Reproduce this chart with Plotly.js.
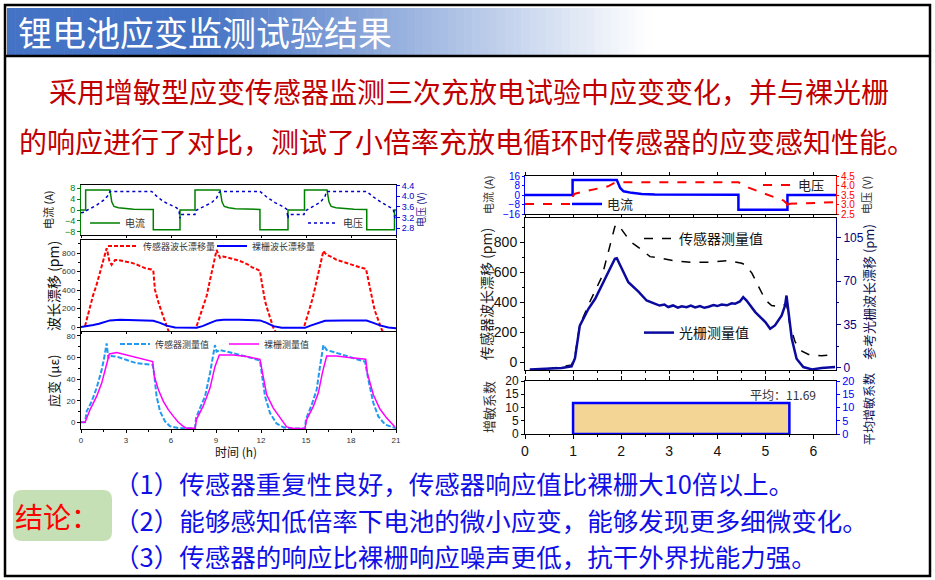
<!DOCTYPE html>
<html><head><meta charset="utf-8">
<script src="https://cdn.plot.ly/plotly-3.0.1.min.js"></script>
<style>html,body{margin:0;padding:0;background:#fff;}#chart{width:935px;height:580px;}</style>
</head><body><div id="chart"></div>
<script>
// ---------------- DATA ----------------
// Left panel (three charge/discharge cycles, time in h)
const ltCurrentTime = [0,0.31,0.31,1.93,2.05,2.2,2.5,2.9,3.5,4.82,4.82,6.6,6.6,7.6,7.6,9.27,9.4,9.55,9.85,10.3,11.0,11.93,11.93,13.8,13.8,14.9,14.9,16.4,16.53,16.68,17.0,17.5,18.2,19.05,19.05,20.9,20.9,21];
const ltCurrent = [0,0,7.4,7.4,3.0,1.3,0.8,0.5,0.3,0.2,-7.3,-7.3,0,0,7.4,7.4,3.0,1.3,0.8,0.5,0.3,0.2,-7.3,-7.3,0,0,7.4,7.4,3.0,1.3,0.8,0.5,0.3,0.2,-7.3,-7.3,0,0];
const ltVoltageTime = [0,0.3,0.33,0.6,1.04,1.49,1.82,1.93,2.0,4.71,5.04,5.49,5.93,6.38,6.53,6.6,6.62,7.6,7.62,8.16,8.71,9.04,9.22,9.31,11.93,12.38,12.93,13.49,13.71,13.8,13.82,14.87,14.9,15.42,15.98,16.27,16.38,19.04,19.49,20.04,20.6,20.82,20.93,20.95,21];
const ltVoltage = [3.38,3.4,3.45,3.53,3.66,3.84,4.03,4.18,4.18,4.18,4.0,3.8,3.68,3.56,3.47,3.16,3.31,3.31,3.45,3.6,3.76,3.93,4.15,4.18,4.18,3.97,3.76,3.6,3.51,3.16,3.31,3.31,3.43,3.6,3.78,4.0,4.18,4.18,3.97,3.76,3.6,3.51,3.16,3.3,3.3];

const lmSensorTime = [0.27,0.45,0.6,0.8,1.04,1.2,1.38,1.5,1.6,1.71,1.8,1.89,2.04,2.27,2.5,3.04,3.4,3.71,4.0,4.27,4.71,4.82,4.93,5.05,5.16,5.38,5.6,5.76,5.85,null,
  7.71,7.88,8.04,8.2,8.38,8.55,8.71,8.93,9.04,9.15,9.27,9.49,9.8,10.16,10.5,10.82,11.1,11.38,11.7,11.93,12.04,12.15,12.27,12.45,12.6,12.82,13.0,null,
  14.89,15.08,15.27,15.45,15.6,15.8,15.93,16.16,16.27,16.38,16.7,17.04,17.4,17.71,18.05,18.38,18.7,19.0,19.16,19.27,19.38,19.5,19.6,19.82,20.04,20.15];
const lmSensorDrift = [11,120,226,340,459,550,638,720,782,853,790,717,674,725,725,710,695,677,660,638,624,612,405,330,269,162,54,-17,-50,null,
  11,90,172,250,339,470,602,746,835,790,750,765,752,738,722,700,680,650,628,610,495,390,280,180,100,-6,-60,null,
  11,110,208,315,423,560,674,825,800,782,760,728,710,692,672,656,642,631,495,400,316,240,172,65,-24,-60];
const lmBareTime = [0,0.5,0.82,1.2,1.49,1.93,2.6,3.27,4.16,4.82,5.27,5.71,6.27,7.0,7.71,8.1,8.38,8.7,9.04,9.49,10.5,11.93,12.38,12.82,13.38,14.2,14.93,15.3,15.71,16.27,17.5,19.04,19.49,19.93,20.49,21];
const lmBareDrift = [0,10,22,35,47,72,78,75,70,68,45,15,-5,-7,-7,10,25,50,72,80,78,72,45,10,-8,-9,-9,15,40,68,70,70,45,18,-5,-12];

const lbSensorTime = [0,0.27,0.38,0.71,1.04,1.38,1.56,1.71,1.82,1.93,2.38,3.04,3.71,4.38,4.78,4.87,5.04,5.27,5.6,5.93,6.38,6.6,7.6,
  7.67,7.93,8.27,8.6,8.82,8.93,9.04,9.27,9.71,10.16,11.04,11.93,12.04,12.27,12.6,13.04,13.49,13.93,14.93,
  15.0,15.38,15.71,15.93,16.16,16.38,17.04,17.71,18.38,18.93,19.16,19.49,19.82,20.27,20.93,21];
const lbSensorStrain = [0,0,10.1,19.4,31.7,48.6,60.9,73.2,59.3,61.5,60.9,57.8,54.7,53.8,53.2,45.5,24.0,10.1,0.9,-3.7,-4.6,-5.5,-5.5,
  3.9,13.2,24.0,45.5,64.0,71.6,65.5,67.0,65.5,64.0,60.9,57.2,45.5,24.0,8.6,-1.2,-4.6,-5.8,-5.8,
  3.0,16.3,30.1,51.6,71.6,67.0,64.6,61.5,58.4,56.3,39.4,17.9,5.5,-2.1,-5.2,-5.5];
const lbBareTime = [0,0.27,0.6,1.04,1.38,1.71,1.89,2.38,3.04,3.93,4.78,4.89,5.16,5.49,5.82,6.16,6.49,6.82,7.04,7.6,
  7.71,8.16,8.6,8.93,9.22,10.16,11.04,11.93,12.04,12.38,12.82,13.27,13.71,14.16,14.93,
  15.04,15.49,15.82,16.11,16.38,17.04,17.71,18.38,18.98,19.09,19.49,19.93,20.38,20.93];
const lbBareStrain = [0,0,11.7,24.0,36.3,54.7,63.3,64.6,62.4,59.3,56.3,42.4,30.1,19.4,11.7,5.5,0,-3.7,-5.5,-5.5,
  3.0,15.4,31.7,51.6,62.4,62.4,60.9,58.4,50.1,25.5,13.2,3.9,-4.3,-5.8,-5.8,
  2.4,14.8,27.1,47.0,61.5,61.5,60.2,59.0,58.4,45.5,25.5,12.3,3.9,-4.3];

// Right panel (single cycle, time in h)
const rtCurrentTime = [0,0.99,0.99,1.91,1.98,2.05,2.22,2.43,2.7,3.5,4.44,4.44,5.46,5.46,6.47];
const rtCurrent = [0,0,12.7,12.7,5.9,3.1,1.8,0.8,0.4,0.2,0.2,-12.4,-12.4,0,0];
const rtVoltageTime = [0,0.97,1.0,1.04,1.25,1.53,1.73,1.84,1.91,4.44,4.65,4.93,5.2,5.38,5.45,5.47,5.5,5.9,6.47];
const rtVoltage = [3.02,3.02,3.45,3.57,3.69,3.84,3.96,4.11,4.17,4.17,3.89,3.62,3.39,3.21,3.04,2.71,3.04,3.07,3.12];

const rmSensorTime = [0.1,0.55,0.97,1.04,1.14,1.35,1.6,1.73,1.87,1.93,2.01,2.19,2.43,2.6,2.84,3.12,3.47,3.82,4.23,4.51,4.58,4.72,4.86,5.0,5.13,5.34,5.44,5.51,5.62,5.76,5.9,6.17,6.45];
const rmSensorDrift = [-53,-42,-20,43,248,403,570,738,905,921,883,805,749,704,693,675,666,666,677,660,649,594,504,415,377,370,393,248,135,73,51,42,51];
const rmBareTime = [0.1,0.49,0.76,0.97,1.04,1.14,1.32,1.46,1.6,1.73,1.87,1.91,2.01,2.15,2.36,2.53,2.71,2.8,2.9,2.98,3.08,3.18,3.26,3.36,3.45,3.54,3.64,3.73,3.82,3.92,4.0,4.09,4.2,4.3,4.37,4.47,4.54,4.61,4.79,5.0,5.1,5.2,5.34,5.41,5.44,5.48,5.55,5.65,5.79,5.97,6.17,6.45];
const rmBareDrift = [-1.5,-0.8,-0.2,1.1,7.6,34,47.6,55.7,66.4,77.2,88,88.5,79.9,69.1,61.5,54.3,51.6,50.2,51.0,49.0,50.3,48.5,49.6,48.9,50.1,48.7,49.8,48.4,49.2,50.6,49.8,51.0,50.4,52.0,51.6,53.5,57,54.3,44.9,36.8,31.4,34.1,42.2,50.2,58.3,44.9,23.4,7.2,0.5,-1.4,-0.3,0.5];

const gainStart = 1;
const gainEnd = 5.5;
const gainAverage = 11.69;

// tick labels
const ltCurrentTicks = [-8,-4,0,4,8];
const ltVoltageTicks = [2.8,3.2,3.6,4.0,4.4];
const lmTicks = [0,200,400,600,800];
const lbTicks = [0,20,40,60,80];
const timeTicksLeft = [0,3,6,9,12,15,18,21];
const rtCurrentTicks = [-16,-8,0,8,16];
const rtVoltageTicks = [2.5,3.0,3.5,4.0,4.5];
const rmLeftTicks = [0,200,400,600,800];
const rmRightTicks = [0,35,70,105];
const rbTicks = [0,5,10,15,20];
const timeTicksRight = [0,1,2,3,4,5,6];

// ---------------- LAYOUT HELPERS ----------------
const W = 935, H = 580;
const px = v => v / W;
const py = v => 1 - v / H;
const TF = 'Liberation Sans, Arial, sans-serif';
const CF = 'Noto Sans CJK SC, sans-serif';

function ax(extra) {
  return Object.assign({
    showline: true, linecolor: '#000', linewidth: 1, ticks: 'outside', ticklen: 3, tickwidth: 1,
    tickcolor: '#000', showgrid: false, zeroline: false, fixedrange: true,
    tickfont: {family: TF, size: 9, color: '#222'}
  }, extra);
}
function leg(x, y, size, color) {
  return {x: px(x), y: py(y), xanchor: 'left', yanchor: 'middle', orientation: 'h',
    bgcolor: 'rgba(0,0,0,0)', borderwidth: 0, font: {family: CF, size: size, color: color},
    itemwidth: 30, tracegroupgap: 0};
}

const traces = [
  {x: ltCurrentTime, y: ltCurrent, xaxis: 'x', yaxis: 'y', mode: 'lines', name: '电流',
   line: {color: '#008000', width: 1.5}, legend: 'legend'},
  {x: ltVoltageTime, y: ltVoltage, xaxis: 'x', yaxis: 'y2', mode: 'lines', name: '电压',
   line: {color: '#0000CC', width: 1.5, dash: 'dot'}, legend: 'legend2'},
  {x: lmSensorTime, y: lmSensorDrift, xaxis: 'x2', yaxis: 'y3', mode: 'lines', name: '传感器波长漂移量',
   line: {color: '#FF0000', width: 2, dash: '4px,2px'}, legend: 'legend3', connectgaps: false},
  {x: lmBareTime, y: lmBareDrift, xaxis: 'x2', yaxis: 'y3', mode: 'lines', name: '裸栅波长漂移量',
   line: {color: '#0000FF', width: 2}, legend: 'legend4'},
  {x: lbSensorTime, y: lbSensorStrain, xaxis: 'x3', yaxis: 'y4', mode: 'lines', name: '传感器测量值',
   line: {color: '#1E9BF0', width: 2, dash: '5px,2px'}, legend: 'legend5'},
  {x: lbBareTime, y: lbBareStrain, xaxis: 'x3', yaxis: 'y4', mode: 'lines', name: '裸栅测量值',
   line: {color: '#FF00FF', width: 1.5}, legend: 'legend6'},
  {x: rtCurrentTime, y: rtCurrent, xaxis: 'x4', yaxis: 'y5', mode: 'lines', name: '电流',
   line: {color: '#0000FF', width: 2.5}, legend: 'legend7'},
  {x: rtVoltageTime, y: rtVoltage, xaxis: 'x4', yaxis: 'y6', mode: 'lines', name: '电压',
   line: {color: '#FF0000', width: 2, dash: 'dash'}, legend: 'legend8'},
  {x: rmSensorTime, y: rmSensorDrift, xaxis: 'x5', yaxis: 'y7', mode: 'lines', name: '传感器测量值',
   line: {color: '#000000', width: 1.5, dash: 'dash'}, legend: 'legend9'},
  {x: rmBareTime, y: rmBareDrift, xaxis: 'x5', yaxis: 'y8', mode: 'lines', name: '光栅测量值',
   line: {color: '#0A0A9E', width: 2.5}, legend: 'legend10'},
  {type: 'bar', x: [(gainStart + gainEnd) / 2], width: [gainEnd - gainStart], y: [gainAverage],
   xaxis: 'x6', yaxis: 'y9', showlegend: false,
   marker: {color: '#F3D595', line: {color: '#0000FF', width: 2.5}}},
  {x: [null], y: [null], xaxis: 'x6', yaxis: 'y10', mode: 'lines', showlegend: false}
];

// Title band gradient
const shapes = [];
const gx0 = 7, gx1 = 660, nSlices = 80;
for (let i = 0; i < nSlices; i++) {
  const a = gx0 + (gx1 - gx0) * i / nSlices, b = gx0 + (gx1 - gx0) * (i + 1) / nSlices + 0.6;
  const m = (a + b) / 2;
  let t = Math.min(1, Math.max(0, (m - 200) / (650 - 200)));
  const c0 = [68, 114, 196];
  const col = c0.map(c => Math.round(c + (255 - c) * t));
  shapes.push({type: 'rect', xref: 'paper', yref: 'paper', x0: px(a), x1: px(b), y0: py(55), y1: py(8),
    line: {width: 0}, fillcolor: 'rgb(' + col.join(',') + ')', layer: 'below'});
}
shapes.push({type: 'rect', xref: 'paper', yref: 'paper', x0: px(5), x1: px(930), y0: py(576), y1: py(5),
  line: {color: '#000', width: 2.5}, fillcolor: 'rgba(0,0,0,0)'});
shapes.push({type: 'line', xref: 'paper', yref: 'paper', x0: px(5), x1: px(930), y0: py(56), y1: py(56),
  line: {color: '#000', width: 2.5}});
// rounded green box
(function () {
  const x0 = px(13), x1 = px(112), y0 = py(541), y1 = py(490), rx = px(9), ry = 9 / H;
  const p = `M${x0 + rx},${y1} L${x1 - rx},${y1} Q${x1},${y1} ${x1},${y1 - ry} L${x1},${y0 + ry} Q${x1},${y0} ${x1 - rx},${y0} L${x0 + rx},${y0} Q${x0},${y0} ${x0},${y0 + ry} L${x0},${y1 - ry} Q${x0},${y1} ${x0 + rx},${y1} Z`;
  shapes.push({type: 'path', xref: 'paper', yref: 'paper', path: p, fillcolor: '#C5E0B4', line: {width: 0}, layer: 'below'});
})();

function ann(text, x, y, o) {
  return Object.assign({text: text, x: px(x), y: py(y), xref: 'paper', yref: 'paper', showarrow: false,
    xanchor: 'center', yanchor: 'middle'}, o);
}
function vt(text, x, y, size, color) {
  return ann(text, x, y, {textangle: -90, font: {family: CF, size: size, color: color}});
}

const concl = {family: CF, size: 25.5, color: '#1010E6'};
const annotations = [
  ann('锂电池应变监测试验结果', 16, 31, {xanchor: 'left', font: {family: CF, size: 34, color: '#FFFFFF'}}),
  ann('采用增敏型应变传感器监测三次充放电试验中应变变化，并与裸光栅', 47, 91, {xanchor: 'left', font: {family: CF, size: 28, color: '#C00000'}}),
  ann('的响应进行了对比，测试了小倍率充放电循环时传感器的应变感知性能。', 17, 141, {xanchor: 'left', font: {family: CF, size: 28, color: '#C00000'}}),
  ann('（1）传感器重复性良好，传感器响应值比裸栅大10倍以上。', 112, 482, {xanchor: 'left', font: concl}),
  ann('（2）能够感知低倍率下电池的微小应变，能够发现更多细微变化。', 112, 519, {xanchor: 'left', font: concl}),
  ann('（3）传感器的响应比裸栅响应噪声更低，抗干外界扰能力强。', 112, 555, {xanchor: 'left', font: concl}),
  ann('结论：', 13, 516, {xanchor: 'left', font: {family: CF, size: 28, color: '#FF0000'}}),
  vt('电流 (A)', 48, 210, 11, '#222'),
  vt('电压 (V)', 421, 210, 10, '#1a1a8c'),
  vt('波长漂移 (pm)', 53, 286, 14, '#111'),
  vt('应变 (με)', 53, 381, 13, '#111'),
  ann('时间 (h)', 236, 451, {font: {family: CF, size: 12, color: '#111'}}),
  vt('电流 (A)', 488, 195, 11, '#333'),
  vt('电压 (V)', 866, 195, 11, '#333'),
  vt('传感器波长漂移 (pm)', 486, 294, 14, '#222'),
  vt('参考光栅波长漂移 (pm)', 868, 292, 13, '#101050'),
  vt('增敏系数', 488, 407, 13, '#333'),
  vt('平均增敏系数', 868, 409, 12, '#101050'),
  ann('平均：' + gainAverage.toFixed(2), 783, 394, {font: {family: CF, size: 12, color: '#333'}})
];

const layout = {
  width: W, height: H, margin: {l: 0, r: 0, t: 0, b: 0}, paper_bgcolor: '#fff', plot_bgcolor: 'rgba(0,0,0,0)',
  showlegend: true, shapes: shapes, annotations: annotations, barmode: 'overlay',
  // left top
  xaxis: ax({domain: [px(81), px(396)], range: [0, 21], anchor: 'y', tickvals: timeTicksLeft, showticklabels: false, mirror: true, ticklen: 2}),
  yaxis: ax({domain: [py(235), py(185)], range: [-9.2, 9.2], anchor: 'x', tickvals: ltCurrentTicks,
    linecolor: '#008000', tickcolor: '#008000', tickfont: {family: TF, size: 9, color: '#008000'}}),
  yaxis2: ax({overlaying: 'y', side: 'right', anchor: 'x', range: [2.54, 4.42], tickvals: ltVoltageTicks, tickformat: '.1f',
    linecolor: '#0000CC', tickcolor: '#0000CC', tickfont: {family: TF, size: 9, color: '#0000CC'}}),
  // left middle
  xaxis2: ax({domain: [px(81), px(396)], range: [0, 21], anchor: 'y3', tickvals: timeTicksLeft, showticklabels: false, mirror: true, ticklen: 2}),
  yaxis3: ax({domain: [py(331), py(240)], range: [-43, 943], anchor: 'x2', tickvals: lmTicks, mirror: true,
    tickfont: {family: TF, size: 8, color: '#333'}, minor: {ticks: 'outside', ticklen: 2, dtick: 100, tickcolor: '#000'}}),
  // left bottom
  xaxis3: ax({domain: [px(81), px(396)], range: [0, 21], anchor: 'y4', tickvals: timeTicksLeft, mirror: true,
    tickfont: {family: TF, size: 8, color: '#333'}, minor: {ticks: 'outside', ticklen: 2, dtick: 1.5, tickcolor: '#000'}}),
  yaxis4: ax({domain: [py(429), py(332)], range: [-6.2, 83.7], anchor: 'x3', tickvals: lbTicks, mirror: true,
    tickfont: {family: TF, size: 8, color: '#333'}, minor: {ticks: 'outside', ticklen: 2, dtick: 10, tickcolor: '#000'}}),
  // right top
  xaxis4: ax({domain: [px(525), px(836)], range: [0, 6.47], anchor: 'y5', tickvals: timeTicksRight, showticklabels: false, mirror: 'ticks', ticklen: 3}),
  yaxis5: ax({domain: [py(214), py(176)], range: [-16, 16], anchor: 'x4', tickvals: rtCurrentTicks, ticklen: 2,
    linecolor: '#0000FF', tickcolor: '#0000FF', tickfont: {family: TF, size: 10, color: '#0000FF'}}),
  yaxis6: ax({overlaying: 'y5', side: 'right', anchor: 'x4', range: [2.5, 4.5], tickvals: rtVoltageTicks, tickformat: '.1f', ticklen: 2,
    linecolor: '#FF0000', tickcolor: '#FF0000', tickfont: {family: TF, size: 10, color: '#FF0000'}}),
  // right middle
  xaxis5: ax({domain: [px(525), px(836)], range: [0, 6.47], anchor: 'y7', tickvals: timeTicksRight, showticklabels: false, mirror: 'ticks', ticklen: 3,
    minor: {ticks: 'outside', ticklen: 2, dtick: 0.5, tickcolor: '#000'}}),
  yaxis7: ax({domain: [py(370), py(218)], range: [-53, 962], anchor: 'x5', tickvals: rmLeftTicks, ticklen: 4,
    tickfont: {family: TF, size: 14, color: '#111'}, minor: {ticks: 'outside', ticklen: 2, dtick: 100, tickcolor: '#000'}}),
  yaxis8: ax({overlaying: 'y7', side: 'right', anchor: 'x5', range: [-1.9, 121], tickvals: rmRightTicks, ticklen: 4,
    linecolor: '#000080', tickcolor: '#000080', tickfont: {family: TF, size: 12, color: '#000080'},
    minor: {ticks: 'outside', ticklen: 2, dtick: 17.5, tickcolor: '#000080'}}),
  // right bottom
  xaxis6: ax({domain: [px(525), px(836)], range: [0, 6.47], anchor: 'y9', tickvals: timeTicksRight, mirror: 'ticks', ticklen: 4,
    tickfont: {family: TF, size: 14, color: '#111'}, minor: {ticks: 'outside', ticklen: 2, dtick: 0.5, tickcolor: '#000'}}),
  yaxis9: ax({domain: [py(434), py(381)], range: [0, 20], anchor: 'x6', tickvals: rbTicks, ticklen: 3,
    tickfont: {family: TF, size: 12, color: '#111'}}),
  yaxis10: ax({overlaying: 'y9', side: 'right', anchor: 'x6', range: [0, 20], tickvals: rbTicks, ticklen: 3,
    linecolor: '#0000FF', tickcolor: '#0000FF', tickfont: {family: TF, size: 11, color: '#0000FF'}}),
  legend: leg(85, 223, 10, '#333'),
  legend2: leg(303, 223, 10, '#333'),
  legend3: leg(103, 246, 9, '#333'),
  legend4: leg(212, 246, 9, '#333'),
  legend5: leg(115, 344, 9, '#333'),
  legend6: leg(224, 344, 9, '#333'),
  legend7: leg(567, 204, 13, '#222'),
  legend8: leg(758, 185, 13, '#222'),
  legend9: leg(639, 239, 14, '#111'),
  legend10: leg(639, 333, 14, '#111')
};

Plotly.newPlot('chart', traces, layout, {staticPlot: true, displayModeBar: false});
</script></body></html>
